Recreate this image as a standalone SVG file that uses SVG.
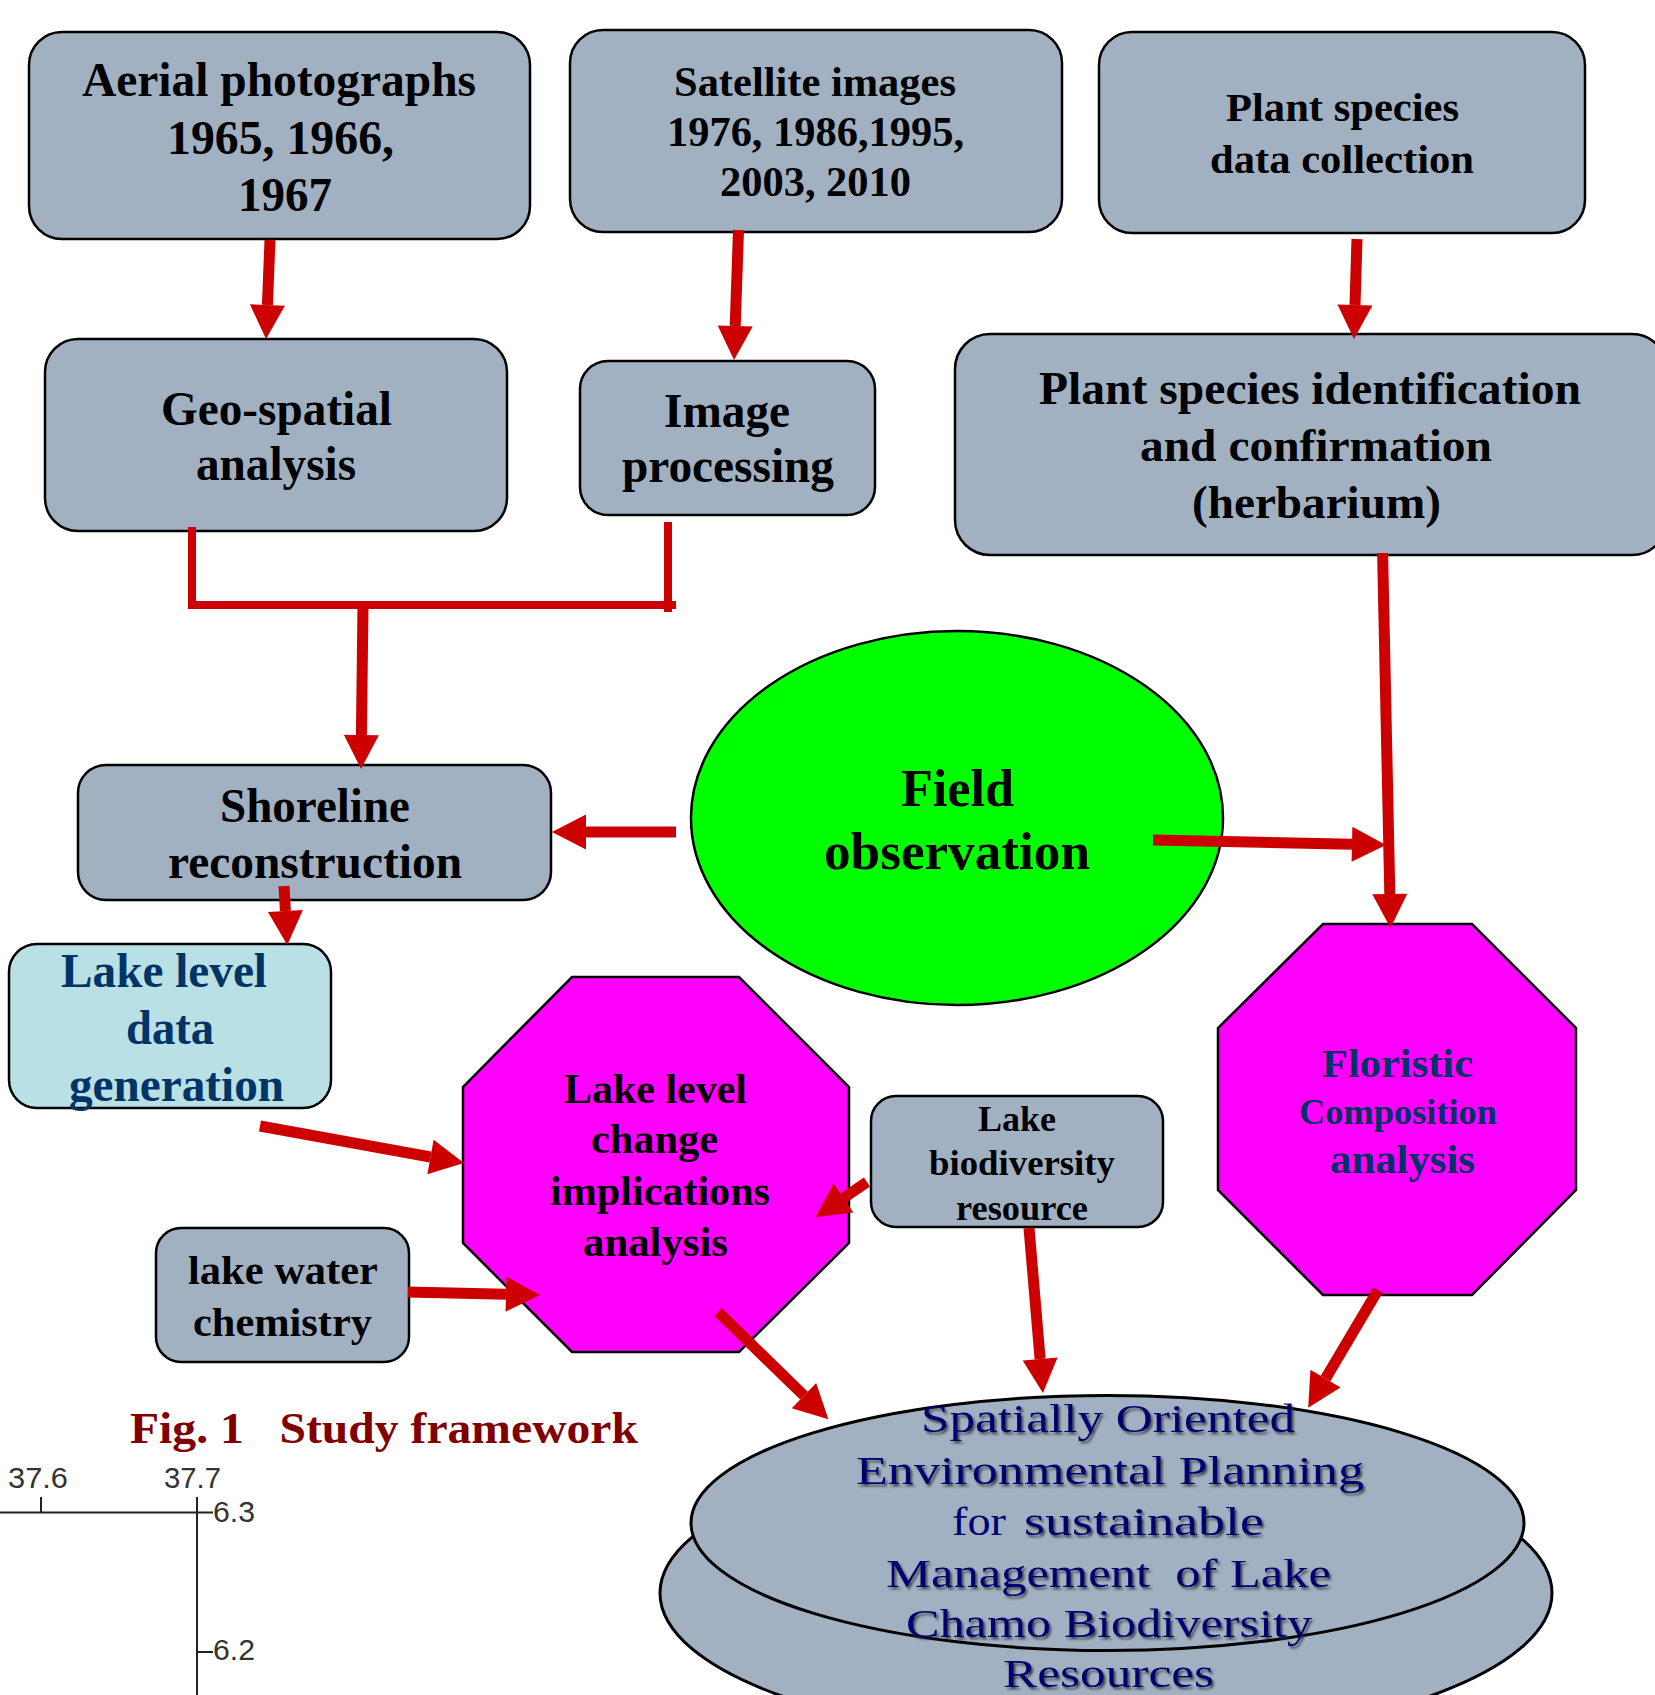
<svg xmlns="http://www.w3.org/2000/svg" width="1655" height="1695" viewBox="0 0 1655 1695">
<style>
.box{fill:#A2B1C1;stroke:#000;stroke-width:2.5}
.lt{fill:#B9E0E4;stroke:#000;stroke-width:2.5}
.mag{fill:#FF00FF;stroke:#000;stroke-width:2.5}
.grn{fill:#00FF00;stroke:#000;stroke-width:2.5}
.ell{fill:#A2B1C1;stroke:#000;stroke-width:3}
text{font-family:"Liberation Serif","Times New Roman",serif;font-weight:bold;fill:#000}
.blue{fill:#003366}
.navy{fill:#000070;font-weight:normal}
.fig{fill:#800000}
.axis{font-family:"Liberation Sans",Arial,sans-serif;font-weight:normal;fill:#333;font-size:29px}
.arr{stroke:#CC0000;stroke-width:11;fill:none;marker-end:url(#ah)}
.br{stroke:#CC0000;stroke-width:8;fill:none}
.ax{stroke:#222;stroke-width:2;fill:none}
</style>
<defs>
<marker id="ah" markerUnits="userSpaceOnUse" markerWidth="36" markerHeight="36" refX="0" refY="17.5" orient="auto" overflow="visible">
<path d="M0,0 L34,17.5 L0,35 z" fill="#CC0000"/>
</marker>
<filter id="sh" x="-5%" y="-20%" width="110%" height="140%">
<feDropShadow dx="2" dy="2.5" stdDeviation="0.8" flood-color="#2a2a2a" flood-opacity="0.75"/>
</filter>
</defs>

<g id="aerial">
<rect class="box" x="29" y="32" width="501" height="207" rx="33"/>
<text font-size="48" x="82" y="96" textLength="394" lengthAdjust="spacingAndGlyphs">Aerial photographs</text>
<text font-size="48" x="167" y="154" textLength="227" lengthAdjust="spacingAndGlyphs">1965, 1966,</text>
<text font-size="48" x="238" y="211" textLength="94" lengthAdjust="spacingAndGlyphs">1967</text>
</g>

<g id="satellite">
<rect class="box" x="570" y="30" width="492" height="202" rx="33"/>
<text font-size="42" x="674" y="96" textLength="282" lengthAdjust="spacingAndGlyphs">Satellite images</text>
<text font-size="42" x="667" y="146" textLength="297" lengthAdjust="spacingAndGlyphs">1976, 1986,1995,</text>
<text font-size="42" x="720" y="196" textLength="191" lengthAdjust="spacingAndGlyphs">2003, 2010</text>
</g>

<g id="plantdata">
<rect class="box" x="1099" y="32" width="486" height="201" rx="33"/>
<text font-size="41" x="1226" y="121" textLength="233" lengthAdjust="spacingAndGlyphs">Plant species</text>
<text font-size="41" x="1210" y="173" textLength="264" lengthAdjust="spacingAndGlyphs">data collection</text>
</g>

<g id="geospatial">
<rect class="box" x="45" y="339" width="462" height="192" rx="33"/>
<text font-size="48" x="161" y="425" textLength="231" lengthAdjust="spacingAndGlyphs">Geo-spatial</text>
<text font-size="48" x="196" y="480" textLength="160" lengthAdjust="spacingAndGlyphs">analysis</text>
</g>

<g id="imageproc">
<rect class="box" x="580" y="361" width="295" height="154" rx="28"/>
<text font-size="48" x="664" y="427" textLength="126" lengthAdjust="spacingAndGlyphs">Image</text>
<text font-size="48" x="622" y="482" textLength="212" lengthAdjust="spacingAndGlyphs">processing</text>
</g>

<g id="identification">
<rect class="box" x="955" y="334" width="712" height="221" rx="35"/>
<text font-size="46" x="1039" y="404" textLength="542" lengthAdjust="spacingAndGlyphs">Plant species identification</text>
<text font-size="46" x="1140" y="461" textLength="352" lengthAdjust="spacingAndGlyphs">and confirmation</text>
<text font-size="46" x="1192" y="518" textLength="249" lengthAdjust="spacingAndGlyphs">(herbarium)</text>
</g>

<g id="shoreline">
<rect class="box" x="78" y="765" width="473" height="135" rx="28"/>
<text font-size="48" x="220" y="822" textLength="190" lengthAdjust="spacingAndGlyphs">Shoreline</text>
<text font-size="48" x="168" y="878" textLength="294" lengthAdjust="spacingAndGlyphs">reconstruction</text>
</g>

<g id="lakeleveldata">
<rect class="lt" x="9" y="944" width="322" height="164" rx="28"/>
<text class="blue" font-size="48" x="61" y="987" textLength="206" lengthAdjust="spacingAndGlyphs">Lake level</text>
<text class="blue" font-size="48" x="126" y="1044" textLength="88" lengthAdjust="spacingAndGlyphs">data</text>
<text class="blue" font-size="48" x="69" y="1101" textLength="215" lengthAdjust="spacingAndGlyphs">generation</text>
</g>

<g id="field">
<ellipse class="grn" cx="957" cy="818" rx="266" ry="187"/>
<text font-size="53" x="901" y="806" textLength="113" lengthAdjust="spacingAndGlyphs">Field</text>
<text font-size="53" x="824" y="869" textLength="266" lengthAdjust="spacingAndGlyphs">observation</text>
</g>

<g id="lakechange">
<polygon class="mag" points="572,977 739,977 849,1087 849,1243 739,1352 572,1352 463,1243 463,1087"/>
<text font-size="43" x="564" y="1103" textLength="183" lengthAdjust="spacingAndGlyphs">Lake level</text>
<text font-size="43" x="591" y="1153" textLength="127" lengthAdjust="spacingAndGlyphs">change</text>
<text font-size="43" x="550" y="1205" textLength="220" lengthAdjust="spacingAndGlyphs">implications</text>
<text font-size="43" x="583" y="1256" textLength="145" lengthAdjust="spacingAndGlyphs">analysis</text>
</g>

<g id="biodiversity">
<rect class="box" x="871" y="1096" width="292" height="131" rx="25"/>
<text font-size="36" x="978" y="1131" textLength="78" lengthAdjust="spacingAndGlyphs">Lake</text>
<text font-size="36" x="929" y="1175" textLength="186" lengthAdjust="spacingAndGlyphs">biodiversity</text>
<text font-size="36" x="956" y="1220" textLength="132" lengthAdjust="spacingAndGlyphs">resource</text>
</g>

<g id="chemistry">
<rect class="box" x="156" y="1228" width="253" height="134" rx="25"/>
<text font-size="41" x="188" y="1284" textLength="190" lengthAdjust="spacingAndGlyphs">lake water</text>
<text font-size="41" x="193" y="1336" textLength="179" lengthAdjust="spacingAndGlyphs">chemistry</text>
</g>

<g id="floristic">
<polygon class="mag" points="1323,924 1472,924 1576,1028 1576,1190 1472,1295 1323,1295 1218,1190 1218,1028"/>
<text class="blue" font-size="40" x="1322" y="1077" textLength="151" lengthAdjust="spacingAndGlyphs">Floristic</text>
<text class="blue" font-size="36" x="1299" y="1124" textLength="198" lengthAdjust="spacingAndGlyphs">Composition</text>
<text class="blue" font-size="40" x="1330" y="1173" textLength="145" lengthAdjust="spacingAndGlyphs">analysis</text>
</g>

<g id="planning">
<ellipse class="ell" cx="1106" cy="1593" rx="446" ry="150"/>
<ellipse class="ell" cx="1107.5" cy="1523" rx="416.5" ry="127.5"/>
<g filter="url(#sh)">
<text class="navy" font-size="41" x="921" y="1432" textLength="374" lengthAdjust="spacingAndGlyphs">Spatially Oriented</text>
<text class="navy" font-size="41" x="856" y="1484" textLength="508" lengthAdjust="spacingAndGlyphs">Environmental Planning</text>
<text class="navy" font-size="41" x="1024" y="1535" textLength="240" lengthAdjust="spacingAndGlyphs">sustainable</text>
<text class="navy" font-size="41" x="886" y="1587" textLength="445" lengthAdjust="spacingAndGlyphs" xml:space="preserve">Management  of Lake</text>
<text class="navy" font-size="41" x="906" y="1637" textLength="406" lengthAdjust="spacingAndGlyphs">Chamo Biodiversity</text>
<text class="navy" font-size="41" x="1003" y="1687" textLength="211" lengthAdjust="spacingAndGlyphs">Resources</text>
</g>
<text class="navy" font-size="41" x="952" y="1535" textLength="54" lengthAdjust="spacingAndGlyphs">for</text>
</g>

<g id="caption">
<text class="fig" font-size="44" x="130" y="1443" textLength="508" lengthAdjust="spacingAndGlyphs" xml:space="preserve">Fig. 1   Study framework</text>
</g>

<g id="mapaxis">
<path class="ax" d="M0,1512.5 H213 M197,1497 V1695 M41,1497 V1512.5 M197,1652 H213"/>
<text class="axis" x="8" y="1488" textLength="60" lengthAdjust="spacingAndGlyphs">37.6</text>
<text class="axis" x="164" y="1488" textLength="57" lengthAdjust="spacingAndGlyphs">37.7</text>
<text class="axis" x="213" y="1522" textLength="42" lengthAdjust="spacingAndGlyphs">6.3</text>
<text class="axis" x="213" y="1660" textLength="42" lengthAdjust="spacingAndGlyphs">6.2</text>
</g>

<g id="connectors">
<path class="br" d="M192,527 V605 M188,605 H676 M668,522 V612"/>
<line class="arr" x1="270" y1="240" x2="267.4" y2="305"/>
<line class="arr" x1="738.5" y1="230" x2="735.2" y2="326"/>
<line class="arr" x1="1357" y1="239" x2="1355" y2="305"/>
<line class="arr" x1="363" y1="605" x2="361.4" y2="735"/>
<line class="arr" x1="676" y1="832" x2="586" y2="832"/>
<line class="arr" x1="284" y1="886" x2="285.4" y2="911"/>
<line class="arr" x1="1153" y1="840" x2="1352" y2="844.3"/>
<line class="arr" x1="1382.6" y1="553" x2="1389.8" y2="894"/>
<line class="arr" x1="260" y1="1126" x2="430.5" y2="1157"/>
<line class="arr" x1="408" y1="1292" x2="506" y2="1294.2"/>
<line class="arr" x1="867" y1="1182" x2="843.5" y2="1198"/>
<line class="arr" x1="1029" y1="1228" x2="1040.1" y2="1359"/>
<line class="arr" x1="718" y1="1312" x2="804" y2="1395.6"/>
<line class="arr" x1="1378" y1="1290" x2="1325.5" y2="1378.6"/>
</g>
</svg>
